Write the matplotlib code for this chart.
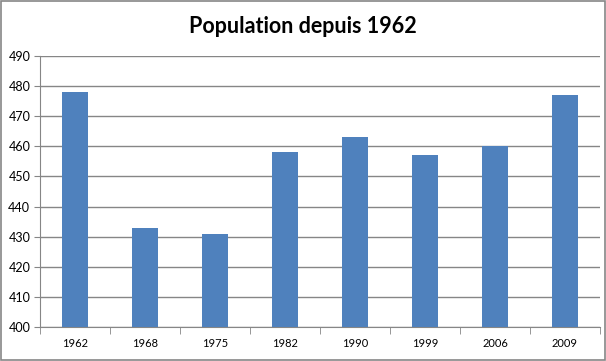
import numpy as np
import matplotlib.pyplot as plt
from matplotlib.patches import Rectangle

years = ['1962', '1968', '1975', '1982', '1990', '1999', '2006', '2009']
population = [478, 433, 431, 458, 463, 457, 460, 477]

plt.rcParams['font.family'] = ['Lato', 'DejaVu Sans']

fig = plt.figure(figsize=(6.06, 3.61), dpi=100)
ax = fig.add_axes([40/606, 34/361, 560/606, 271/361])

idx = np.arange(len(years))
ax.bar(idx, population, 0.38, color='#4f81bd', zorder=3)

ax.set_xlim(-0.5, len(years) - 0.5)
ax.set_ylim(400, 490)
ax.set_yticks(np.arange(400, 491, 10))
ax.set_xticks(idx)
ax.set_xticklabels(years)
ax.set_xticks(np.arange(-0.5, len(years)), minor=True)
ax.tick_params(axis='x', which='major', length=0, labelsize=8, pad=8)
ax.tick_params(axis='x', which='minor', length=5, color='#868686')
ax.tick_params(axis='y', length=4, color='#868686', labelsize=9, pad=3)
ax.grid(axis='y', color='#868686', linewidth=1, zorder=0)

for side in ['top', 'right']:
    ax.spines[side].set_visible(False)
for side in ['left', 'bottom']:
    ax.spines[side].set_color('#868686')

fig.suptitle('Population depuis 1962', y=0.955, fontsize=15.5, fontweight='bold')

fig.patches.append(Rectangle((0.002, 0.003), 0.996, 0.994, transform=fig.transFigure,
                             fill=False, edgecolor='#868686', linewidth=1.2))

plt.savefig('out.png', dpi=100)
